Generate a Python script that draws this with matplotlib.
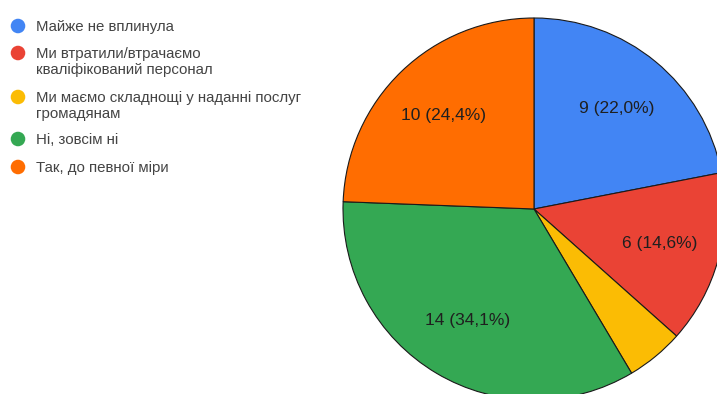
import matplotlib.pyplot as plt

# answers and counts
labels = ['Майже не вплинула',
          'Ми втратили/втрачаємо\nкваліфікований персонал',
          'Ми маємо складнощі у наданні послуг\nгромадянам',
          'Ні, зовсім ні',
          'Так, до певної міри']
counts = [9, 6, 2, 14, 10]
colors = ['#4285F4', '#EA4335', '#FBBC04', '#34A853', '#FF6D01']

total = sum(counts)

def fmt(pct):
    n = round(pct * total / 100)
    if pct < 5:
        return ''
    return f'{n} ({pct:.1f}%)'.replace('.', ',')

W, H = 717, 394
fig = plt.figure(figsize=(W / 100, H / 100), dpi=100)
ax = fig.add_axes([0, 0, 1, 1])

wedges, texts, autotexts = ax.pie(
    counts, colors=colors, startangle=90, counterclock=False,
    center=(534, H - 209), radius=191, autopct=fmt, pctdistance=0.68,
    wedgeprops=dict(edgecolor='#1a1a1a', linewidth=0.8),
    textprops=dict(fontsize=12.5, color='#1f1f1f', family='Liberation Sans'))
ax.set_xlim(0, W)
ax.set_ylim(0, H)
ax.set_aspect('equal')
ax.axis('off')

# legend on the left
legend_y = [26, 53, 97, 139, 167]
for lab, c, y in zip(labels, colors, legend_y):
    ax.scatter(18, H - y, s=110, color=c, edgecolors='none', zorder=3)
    ax.text(36, H - y + 6, lab, fontsize=10.8, color='#444444', va='top',
            family='Liberation Sans', linespacing=1.2)

fig.savefig('out.png', dpi=100)
